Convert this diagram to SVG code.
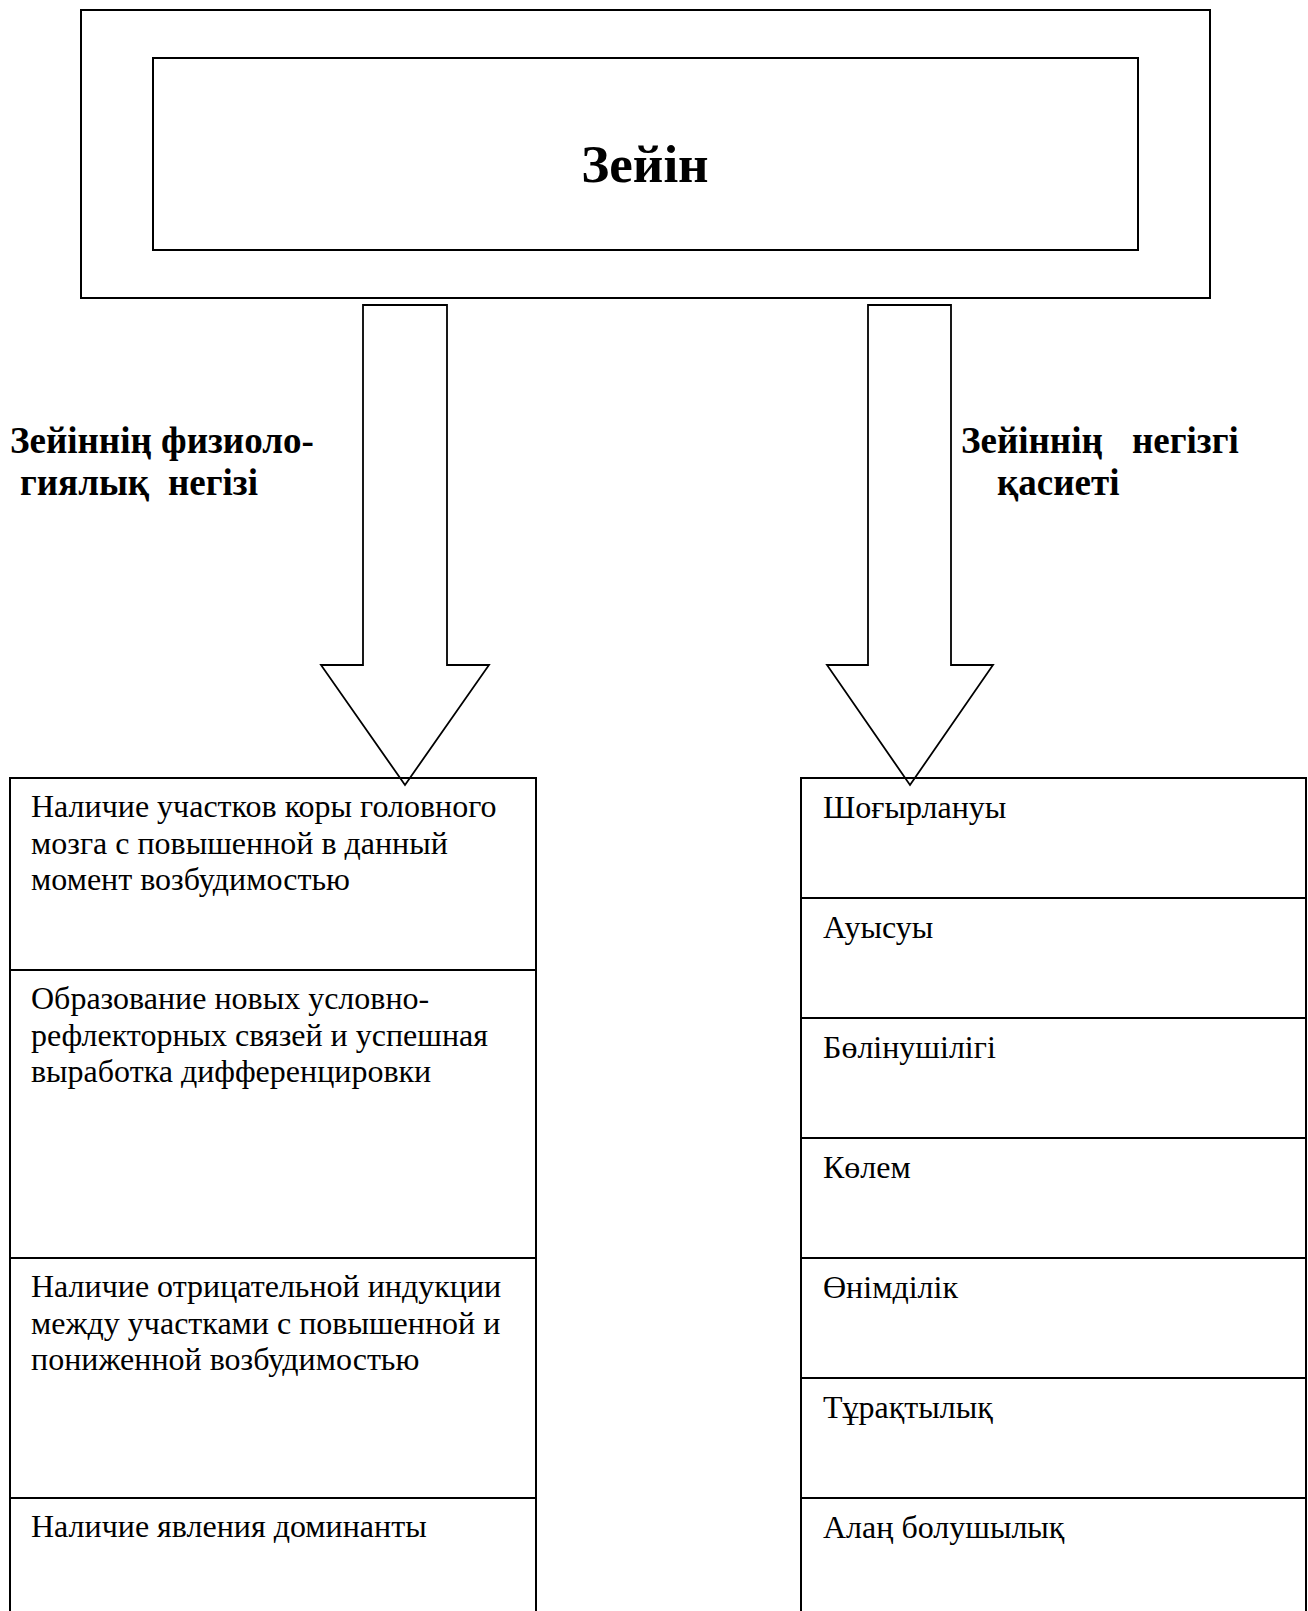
<svg xmlns="http://www.w3.org/2000/svg" width="1308" height="1611" viewBox="0 0 1308 1611">
<style>
.box{fill:none;stroke:#000;stroke-width:2}
.arrow{fill:#fff;stroke:#000;stroke-width:1.8;stroke-linejoin:miter}
.t{font-family:"Liberation Serif","Times New Roman",serif;font-size:32px;fill:#000}
.lb{font-family:"Liberation Serif","Times New Roman",serif;font-size:37px;font-weight:bold;fill:#000}
.title{font-family:"Liberation Serif","Times New Roman",serif;font-size:53px;font-weight:bold;fill:#000}
</style>
<rect width="1308" height="1611" fill="#fff"/>
<g id="connectors">
<polygon class="arrow" points="363,305 447,305 447,665 489,665 405,785 321,665 363,665"/>
<polygon class="arrow" points="868,305 951,305 951,665 993,665 910,785 827,665 868,665"/>
</g>
<g id="node-zeiin">
<rect class="box" x="81" y="10" width="1129" height="288"/>
<rect class="box" x="153" y="58" width="985" height="192"/>
<text class="title" x="645" y="182" text-anchor="middle">Зейін</text>
</g>
<g id="label-physiology">
<text class="lb" x="10" y="453">Зейіннің физиоло-</text>
<text class="lb" y="495"><tspan x="20">гиялық</tspan><tspan x="168">негізі</tspan></text>
</g>
<g id="label-properties">
<text class="lb" y="453"><tspan x="961">Зейіннің</tspan><tspan x="1132">негізгі</tspan></text>
<text class="lb" x="997" y="495">қасиеті</text>
</g>
<g id="node-physiology-list">
<rect class="box" x="10" y="778" width="526" height="850"/>
<line class="box" x1="10" y1="970" x2="536" y2="970"/>
<line class="box" x1="10" y1="1258" x2="536" y2="1258"/>
<line class="box" x1="10" y1="1498" x2="536" y2="1498"/>
<text class="t" x="31" y="817">Наличие участков коры головного</text>
<text class="t" x="31" y="853.5">мозга с повышенной в данный</text>
<text class="t" x="31" y="890">момент возбудимостью</text>
<text class="t" x="31" y="1009">Образование новых условно-</text>
<text class="t" x="31" y="1045.5">рефлекторных связей и успешная</text>
<text class="t" x="31" y="1082">выработка дифференцировки</text>
<text class="t" x="31" y="1297">Наличие отрицательной индукции</text>
<text class="t" x="31" y="1333.5">между участками с повышенной и</text>
<text class="t" x="31" y="1370">пониженной возбудимостью</text>
<text class="t" x="31" y="1537">Наличие явления доминанты</text>
</g>
<g id="node-properties-list">
<rect class="box" x="801" y="778" width="505" height="850"/>
<line class="box" x1="801" y1="898" x2="1306" y2="898"/>
<line class="box" x1="801" y1="1018" x2="1306" y2="1018"/>
<line class="box" x1="801" y1="1138" x2="1306" y2="1138"/>
<line class="box" x1="801" y1="1258" x2="1306" y2="1258"/>
<line class="box" x1="801" y1="1378" x2="1306" y2="1378"/>
<line class="box" x1="801" y1="1498" x2="1306" y2="1498"/>
<text class="t" x="823" y="818">Шоғырлануы</text>
<text class="t" x="823" y="938">Ауысуы</text>
<text class="t" x="823" y="1058">Бөлінушілігі</text>
<text class="t" x="823" y="1178">Көлем</text>
<text class="t" x="823" y="1298">Өнімділік</text>
<text class="t" x="823" y="1418">Тұрақтылық</text>
<text class="t" x="823" y="1538">Алаң болушылық</text>
</g>
</svg>
